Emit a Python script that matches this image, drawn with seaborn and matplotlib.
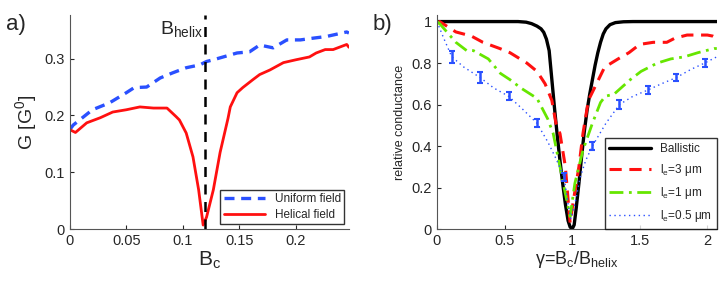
import numpy as np
import pandas as pd
import matplotlib
matplotlib.use("Agg")
import matplotlib.pyplot as plt
import seaborn as sns

# panel a) conductance vs B_c
bc_uniform = [0.0, 0.003, 0.02, 0.035, 0.05, 0.057, 0.068, 0.08, 0.091, 0.103, 0.115, 0.121,
              0.127, 0.148, 0.159, 0.168, 0.18, 0.192, 0.204, 0.215, 0.227, 0.245, 0.247]
g_uniform = [0.175, 0.183, 0.21, 0.222, 0.24, 0.249, 0.25, 0.266, 0.275, 0.284, 0.289, 0.295,
             0.298, 0.31, 0.312, 0.324, 0.319, 0.333, 0.333, 0.336, 0.339, 0.347, 0.345]

bc_helical = [0.0, 0.005, 0.015, 0.027, 0.038, 0.05, 0.062, 0.074, 0.086, 0.094, 0.097, 0.103,
              0.109, 0.114, 0.118, 0.121, 0.127, 0.133, 0.14, 0.142, 0.148, 0.153, 0.162, 0.168,
              0.177, 0.189, 0.2, 0.212, 0.218, 0.226, 0.233, 0.245, 0.247]
g_helical = [0.175, 0.17, 0.187, 0.196, 0.206, 0.21, 0.215, 0.213, 0.213, 0.198, 0.192, 0.169,
             0.127, 0.069, 0.007, 0.021, 0.069, 0.135, 0.195, 0.215, 0.24, 0.249, 0.263, 0.272,
             0.28, 0.293, 0.298, 0.303, 0.31, 0.316, 0.316, 0.325, 0.32]
b_helix = 0.12

# panel b) relative conductance vs gamma
gam_ball = [0.0, 0.6, 0.66, 0.7, 0.74, 0.77, 0.79, 0.81, 0.83, 0.85, 0.87, 0.89, 0.91, 0.93,
            0.95, 0.97, 0.985, 1.0, 1.015, 1.03, 1.05, 1.07, 1.09, 1.11, 1.13, 1.15, 1.17,
            1.19, 1.21, 1.23, 1.25, 1.28, 1.32, 1.38, 1.45, 2.1]
rel_ball = [1.0, 1.0, 0.997, 0.99, 0.978, 0.965, 0.948, 0.915, 0.86, 0.72, 0.58, 0.45, 0.33,
            0.22, 0.12, 0.04, 0.01, 0.0, 0.02, 0.1, 0.22, 0.35, 0.47, 0.57, 0.65, 0.72, 0.79,
            0.85, 0.9, 0.94, 0.965, 0.985, 0.995, 0.999, 1.0, 1.0]

gam_3 = [0.0, 0.02, 0.14, 0.255, 0.34, 0.465, 0.54, 0.665, 0.74, 0.8, 0.85, 0.88, 0.91, 0.95,
         0.97, 0.985, 1.01, 1.05, 1.08, 1.12, 1.18, 1.24, 1.34, 1.42, 1.5, 1.6, 1.7, 1.76, 1.85,
         2.0, 2.04, 2.07]
rel_3 = [0.99, 1.0, 0.95, 0.93, 0.9, 0.87, 0.85, 0.8, 0.76, 0.7, 0.62, 0.51, 0.46, 0.3, 0.14,
         0.03, 0.14, 0.3, 0.46, 0.62, 0.7, 0.78, 0.82, 0.85, 0.89, 0.9, 0.9, 0.92, 0.935, 0.935,
         0.93, 0.92]

gam_1 = [0.0, 0.02, 0.08, 0.14, 0.22, 0.27, 0.38, 0.47, 0.54, 0.62, 0.74, 0.82, 0.86, 0.91,
         0.95, 0.985, 1.02, 1.08, 1.15, 1.21, 1.245, 1.31, 1.43, 1.51, 1.63, 1.73, 1.83, 1.93,
         2.05, 2.07]
rel_1 = [1.0, 0.99, 0.945, 0.9, 0.86, 0.86, 0.82, 0.75, 0.72, 0.68, 0.63, 0.53, 0.46, 0.3,
         0.17, 0.06, 0.22, 0.38, 0.51, 0.61, 0.64, 0.65, 0.72, 0.76, 0.8, 0.82, 0.83, 0.85,
         0.87, 0.87]

gam_05 = [0.0, 0.05, 0.11, 0.2, 0.32, 0.42, 0.53, 0.63, 0.74, 0.82, 0.88, 0.94, 0.97, 0.99,
          1.02, 1.06, 1.1, 1.15, 1.25, 1.35, 1.45, 1.56, 1.66, 1.77, 1.88, 1.98, 2.07]
rel_05 = [1.0, 0.92, 0.83, 0.78, 0.73, 0.68, 0.64, 0.58, 0.51, 0.42, 0.34, 0.25, 0.12, 0.05,
          0.12, 0.25, 0.33, 0.4, 0.51, 0.6, 0.64, 0.67, 0.7, 0.73, 0.77, 0.8, 0.83]

err_x = [0.11, 0.32, 0.53, 0.74, 0.94, 1.15, 1.35, 1.56, 1.77, 1.98]
err_y = [0.83, 0.73, 0.64, 0.51, 0.25, 0.40, 0.60, 0.67, 0.73, 0.80]
err_h = [0.03, 0.025, 0.02, 0.02, 0.02, 0.02, 0.02, 0.018, 0.018, 0.02]

red = "#ff1010"
blue = "#2a50ff"
green = "#66e600"

sns.set_style("ticks")
plt.rcParams["font.family"] = ["Liberation Sans", "DejaVu Sans"]
plt.rcParams["mathtext.fontset"] = "custom"
plt.rcParams["mathtext.rm"] = "Liberation Sans"
plt.rcParams["mathtext.it"] = "Liberation Sans:italic"
plt.rcParams["mathtext.sf"] = "Liberation Sans"
plt.rcParams["xtick.direction"] = "in"
plt.rcParams["ytick.direction"] = "in"

fig = plt.figure(figsize=(7.27, 2.87), dpi=100)
ax1 = fig.add_axes([0.096, 0.202, 0.384, 0.746])
ax2 = fig.add_axes([0.601, 0.202, 0.385, 0.746])

# ---- panel a
sns.lineplot(x=bc_uniform, y=g_uniform, ax=ax1, color=blue, lw=2.4,
             linestyle=(0, (3, 2)), label="Uniform field")
sns.lineplot(x=bc_helical, y=g_helical, ax=ax1, color=red, lw=2.0, label="Helical field")
ax1.axvline(b_helix, color="black", lw=1.8, linestyle=(0, (4, 3)))
ax1.text(b_helix - 0.002, 0.352, r"B$_{\mathrm{helix}}$", ha="right", va="center", fontsize=14)
ax1.set_xlim(0, 0.247)
ax1.set_ylim(0, 0.377)
ax1.set_xticks([0, 0.05, 0.1, 0.15, 0.2])
ax1.set_xticklabels(["0", "0.05", "0.1", "0.15", "0.2"])
ax1.set_yticks([0, 0.1, 0.2, 0.3])
ax1.set_yticklabels(["0", "0.1", "0.2", "0.3"])
ax1.tick_params(labelsize=10.5, length=3)
ax1.set_xlabel(r"B$_\mathrm{c}$", fontsize=15, labelpad=1)
ax1.set_ylabel(r"G [G$^0$]", fontsize=14, labelpad=4)
ax1.legend(loc="lower right", fontsize=8.5, frameon=True, fancybox=False,
           edgecolor="black", handlelength=3.5, borderaxespad=0.4, borderpad=0.3,
           labelspacing=0.3)
ax1.text(-0.23, 0.93, "a)", transform=ax1.transAxes, fontsize=16)

# ---- panel b
sns.lineplot(x=gam_ball, y=rel_ball, ax=ax2, color="black", lw=2.4, label="Ballistic")
sns.lineplot(x=gam_3, y=rel_3, ax=ax2, color=red, lw=2.2, linestyle=(0, (4, 2.5)),
             label="l$_\\mathrm{e}$=3 μm")
sns.lineplot(x=gam_1, y=rel_1, ax=ax2, color=green, lw=2.0, linestyle=(0, (5, 2, 1, 2)),
             label="l$_\\mathrm{e}$=1 μm")
sns.lineplot(x=gam_05, y=rel_05, ax=ax2, color=blue, lw=1.0, linestyle=(0, (1, 2.5)),
             label="l$_\\mathrm{e}$=0.5 μm")
ax2.errorbar(err_x, err_y, yerr=err_h, fmt="none", ecolor=blue, elinewidth=1.8,
             capsize=2, capthick=1.5)
ax2.set_xlim(0, 2.07)
ax2.set_ylim(0, 1.032)
ax2.set_xticks([0, 0.5, 1, 1.5, 2])
ax2.set_xticklabels(["0", "0.5", "1", "1.5", "2"])
ax2.set_yticks([0, 0.2, 0.4, 0.6, 0.8, 1])
ax2.set_yticklabels(["0", "0.2", "0.4", "0.6", "0.8", "1"])
ax2.tick_params(labelsize=10.5, length=3)
ax2.set_xlabel("γ=B$_\\mathrm{c}$/B$_\\mathrm{helix}$", fontsize=13, labelpad=1)
ax2.set_ylabel("relative conductance", fontsize=9, labelpad=4)
ax2.legend(loc="lower right", fontsize=8.5, frameon=True, fancybox=False,
           edgecolor="black", handlelength=3.5, borderaxespad=0.0, labelspacing=0.6)
ax2.text(-0.23, 0.93, "b)", transform=ax2.transAxes, fontsize=16)

for ax in (ax1, ax2):
    sns.despine(ax=ax)
    for s in ("left", "bottom"):
        ax.spines[s].set_color("#555555")
        ax.spines[s].set_linewidth(0.8)

fig.savefig("out.png", dpi=100)
